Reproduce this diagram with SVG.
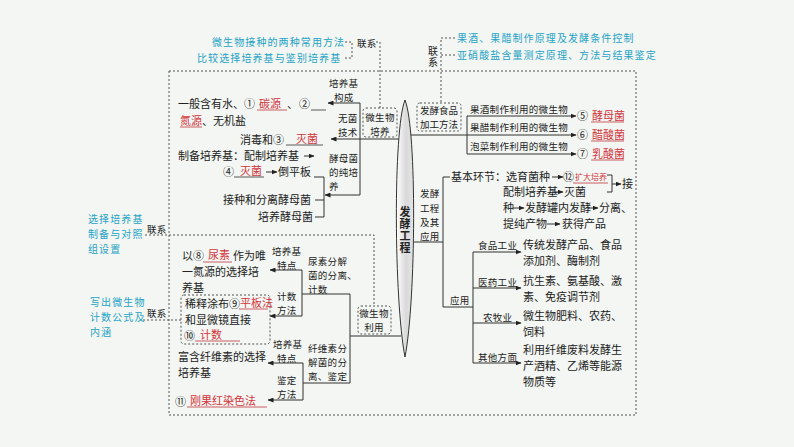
<svg xmlns="http://www.w3.org/2000/svg" width="794" height="447" viewBox="0 0 794 447">
<defs>
<linearGradient id="g" x1="0" x2="1" y1="0" y2="0"><stop offset="0" stop-color="#ffffff"/><stop offset="0.55" stop-color="#dadada"/><stop offset="1" stop-color="#e4e4e4"/></linearGradient>
<marker id="ah" markerWidth="6" markerHeight="5" refX="5.5" refY="2.5" orient="auto" markerUnits="userSpaceOnUse"><path d="M0,0 L6,2.5 L0,5 z" fill="#222"/></marker>
</defs>
<style>
text{font-family:"Noto Sans CJK SC","Noto Sans",sans-serif;fill:#222;font-size:11px}
.s{font-size:9.5px;letter-spacing:0.3px}
.c{fill:#25a3c6;font-size:10px;letter-spacing:1.1px}
.r{fill:#d2353d}
.ln{stroke:#333;stroke-width:1;fill:none}
.ar{stroke:#333;stroke-width:1;fill:none;marker-end:url(#ah)}
.d{stroke:#555;stroke-width:1;fill:none;stroke-dasharray:2,2}
.ul{stroke:#c0393f;stroke-width:0.8}
.ub{stroke:#333;stroke-width:0.8}
.bx{fill:none;stroke:#555;stroke-width:1;stroke-dasharray:2,2}
.hub{font-size:11px;font-weight:bold;writing-mode:vertical-rl;letter-spacing:1px}
.v{writing-mode:vertical-rl;font-size:10px;letter-spacing:1px}
</style>
<rect width="794" height="447" fill="#f3f6f2"/>

<g id="connectors">
<rect class="d" x="169" y="71" width="467" height="344"/>
<path class="d" d="M345,42 H352 V58 H345"/>
<path class="d" d="M376,42 H380 V108"/>
<path class="d" d="M455,38 H441 V103 M441,55 H455"/>
<path class="d" d="M145,235 H374 V306"/>
<path class="d" d="M143,320 H181"/>
<path class="ar" d="M400,139 H331"/>
<path class="ln" d="M360,103 V195"/>
<path class="ar" d="M360,103 H328"/>
<path class="ar" d="M360,195 H325"/>
<path class="ln" d="M314,177 H324 V217 H315 M315,200 H324"/>
<path class="ar" d="M304,156 H314"/>
<path class="ar" d="M266,172 H277"/>
<path class="ln" d="M410,135 H467 M467,116 V154"/>
<path class="ar" d="M467,116 H576"/>
<path class="ar" d="M467,135 H576"/>
<path class="ar" d="M467,154 H576"/>
<path class="ln" d="M414,242 H443 M443,177 V307 M443,177 H450 M443,307 H473 M473,252 V363"/>
<path class="ar" d="M473,252 H521"/>
<path class="ar" d="M473,288 H521"/>
<path class="ar" d="M473,323 H521"/>
<path class="ar" d="M473,363 H521"/>
<path class="ar" d="M552,177 H563"/>
<path class="ln" d="M607,175 H612 V192 H607"/>
<path class="ar" d="M612,184 H621"/>
<path class="ar" d="M552,192 H563"/>
<path class="ar" d="M513,208 H524"/>
<path class="ar" d="M587,208 H598"/>
<path class="ar" d="M547,224 H560"/>
<path class="ln" d="M401,336 H350 M350,294 V383 M350,294 H302 M350,383 H303 M302,270 V316 M303,363 V400"/>
<path class="ar" d="M302,270 H270"/>
<path class="ar" d="M302,316 H270"/>
<path class="ar" d="M303,363 H268"/>
<path class="ar" d="M303,400 H268"/>
</g>

<g id="hub">
<path d="M405,100 C393,130 394,300 405,357 C416,300 417,130 405,100 Z" fill="url(#g)" stroke="#333" stroke-width="1"/>
<text class="hub" x="405" y="206">发酵工程</text>
</g>

<g id="link-top-left">
<text class="c" x="212" y="46">微生物接种的两种常用方法<tspan x="197" y="62">比较选择培养基与鉴别培养基</tspan></text>
<text class="s" x="357" y="47">联系</text>
</g>

<g id="link-top-right">
<text class="c" x="457" y="42">果酒、果醋制作原理及发酵条件控制<tspan x="457" y="59">亚硝酸盐含量测定原理、方法与结果鉴定</tspan></text>
<text class="v" x="433" y="46">联系</text>
</g>

<g id="link-left-1">
<text class="c" x="88" y="223">选择培养基<tspan x="88" y="238">制备与对照</tspan><tspan x="88" y="253">组设置</tspan></text>
<text class="s" x="147" y="233">联系</text>
</g>

<g id="link-left-2">
<text class="c" x="90" y="306">写出微生物<tspan x="90" y="321">计数公式及</tspan><tspan x="90" y="336">内涵</tspan></text>
<text class="s" x="147" y="317">联系</text>
</g>

<g id="micro-culture">
<rect class="bx" x="363" y="108" width="34" height="29" rx="3"/>
<text class="s" x="380" y="121" text-anchor="middle">微生物<tspan x="380" y="135">培养</tspan></text>
</g>

<g id="culture-labels">
<text class="s" x="329" y="87">培养基<tspan x="334" y="101">构成</tspan></text>
<text class="s" x="338" y="122">无菌<tspan x="338" y="136">技术</tspan></text>
<text class="s" x="329" y="162">酵母菌<tspan x="329" y="176">的纯培</tspan><tspan x="329" y="190">养</tspan></text>
</g>

<g id="medium">
<text x="178" y="108">一般含有水、①<tspan class="r" x="259">碳源</tspan><tspan x="287">、</tspan><tspan x="299">②</tspan><tspan class="r" x="180" y="125">氮源</tspan><tspan x="202" y="125">、无机盐</tspan></text>
<line class="ul" x1="257" y1="110" x2="287" y2="110"/>
<line class="ub" x1="311" y1="110" x2="326" y2="110"/>
<line class="ul" x1="180" y1="127" x2="202" y2="127"/>
</g>

<g id="sterile">
<text x="240" y="144">消毒和③<tspan class="r" x="296" y="143">灭菌</tspan></text>
<line class="ub" x1="286" y1="145" x2="323" y2="145"/>
</g>

<g id="yeast">
<text x="178" y="160">制备培养基：配制培养基<tspan x="223" y="176">④</tspan><tspan class="r" x="240" y="175">灭菌</tspan><tspan x="278" y="176">倒平板</tspan></text>
<line class="ub" x1="234" y1="177" x2="264" y2="177"/>
<text x="223" y="204">接种和分离酵母菌<tspan x="258" y="221">培养酵母菌</tspan></text>
</g>

<g id="food-processing">
<rect class="bx" x="417" y="103" width="44" height="28" rx="3"/>
<text class="s" x="439" y="114" text-anchor="middle" style="letter-spacing:0">发酵食品<tspan x="439" y="128">加工方法</tspan></text>
<text class="s" x="470" y="113">果酒制作利用的微生物</text>
<text class="s" x="470" y="131">果醋制作利用的微生物</text>
<text class="s" x="470" y="150">泡菜制作利用的微生物</text>
<text x="577" y="120">⑤<tspan class="r" x="592">酵母菌</tspan></text>
<line class="ul" x1="591" y1="122" x2="624" y2="122"/>
<text x="577" y="139">⑥<tspan class="r" x="592">醋酸菌</tspan></text>
<line class="ul" x1="591" y1="141" x2="624" y2="141"/>
<text x="577" y="158">⑦<tspan class="r" x="592">乳酸菌</tspan></text>
<line class="ul" x1="591" y1="160" x2="624" y2="160"/>
</g>

<g id="fermentation-engineering">
<text class="s" x="420" y="197">发酵<tspan x="420" y="212">工程</tspan><tspan x="420" y="226">及其</tspan><tspan x="420" y="240">应用</tspan></text>
</g>

<g id="basic-steps">
<text x="451" y="181">基本环节：选育菌种<tspan x="563">⑫</tspan><tspan class="r" x="575" y="180" style="font-size:8px">扩大培养</tspan></text>
<line class="ul" x1="573" y1="183" x2="608" y2="183"/>
<text x="622" y="188">接</text>
<text x="503" y="196">配制培养基<tspan x="564">灭菌</tspan><tspan x="503" y="212">种</tspan><tspan x="525" y="212">发酵罐内发酵</tspan><tspan x="599" y="212">分离、</tspan><tspan x="503" y="228">提纯产物</tspan><tspan x="562" y="228">获得产品</tspan></text>
</g>

<g id="application">
<text class="s" x="450" y="304">应用</text>
<text class="s" x="478" y="249">食品工业</text>
<text class="s" x="478" y="286">医药工业</text>
<text class="s" x="483" y="321">农牧业</text>
<text class="s" x="478" y="361">其他方面</text>
<text x="523" y="249">传统发酵产品、食品<tspan x="523" y="265">添加剂、酶制剂</tspan></text>
<text x="523" y="285">抗生素、氨基酸、激<tspan x="523" y="301">素、免疫调节剂</tspan></text>
<text x="523" y="320">微生物肥料、农药、<tspan x="523" y="336">饲料</tspan></text>
<text x="523" y="354">利用纤维废料发酵生<tspan x="523" y="370">产酒精、乙烯等能源</tspan><tspan x="523" y="386">物质等</tspan></text>
</g>

<g id="micro-use">
<rect class="bx" x="358" y="306" width="33" height="28" rx="3"/>
<text class="s" x="374" y="317" text-anchor="middle">微生物<tspan x="374" y="331">利用</tspan></text>
</g>

<g id="urea">
<text class="s" x="308" y="265">尿素分解<tspan x="308" y="279">菌的分离、</tspan><tspan x="308" y="293">计数</tspan></text>
<text class="s" x="272" y="255">培养基<tspan x="277" y="269">特点</tspan></text>
<text class="s" x="277" y="300">计数<tspan x="277" y="314">方法</tspan></text>
<text x="182" y="260">以⑧<tspan class="r" x="208" y="259">尿素</tspan><tspan x="233" y="260">作为唯</tspan><tspan x="182" y="276">一氮源的选择培</tspan><tspan x="182" y="292">养基</tspan></text>
<line class="ul" x1="203" y1="262" x2="232" y2="262"/>
</g>

<g id="count-method">
<rect class="bx" x="181" y="295" width="89" height="49" rx="3"/>
<text x="185" y="308">稀释涂布⑨<tspan class="r" x="240" y="307">平板法</tspan><tspan x="185" y="324">和显微镜直接</tspan><tspan x="184" y="340">⑩</tspan><tspan class="r" x="200" y="339">计数</tspan></text>
<line class="ul" x1="239" y1="309" x2="268" y2="309"/>
<line class="ul" x1="195" y1="341" x2="240" y2="341"/>
</g>

<g id="cellulose">
<text class="s" x="308" y="352">纤维素分<tspan x="308" y="366">解菌的分</tspan><tspan x="308" y="380">离、鉴定</tspan></text>
<text class="s" x="273" y="348">培养基<tspan x="277" y="362">特点</tspan></text>
<text class="s" x="277" y="384">鉴定<tspan x="277" y="398">方法</tspan></text>
<text x="178" y="361">富含纤维素的选择<tspan x="178" y="377">培养基</tspan></text>
<text x="175" y="406">⑪<tspan class="r" x="190" y="405">刚果红染色法</tspan></text>
<line class="ul" x1="187" y1="407" x2="267" y2="407"/>
</g>
</svg>
